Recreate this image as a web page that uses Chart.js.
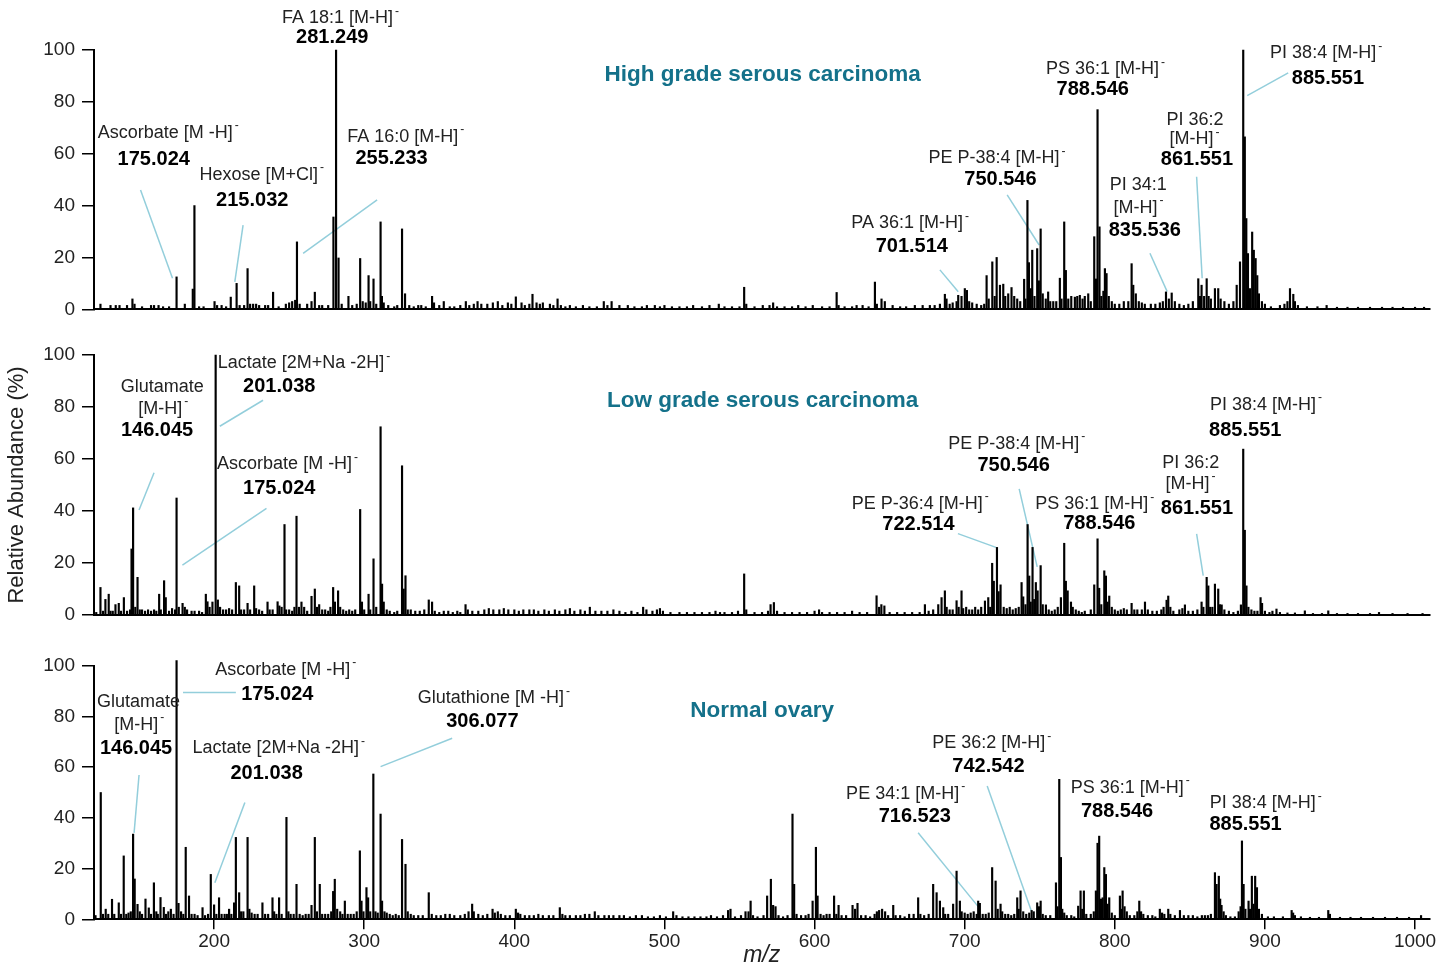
<!DOCTYPE html>
<html>
<head>
<meta charset="utf-8">
<script src="https://cdn.jsdelivr.net/npm/chart.js@4.4.1/dist/chart.umd.min.js"></script>
<style>
  html, body { margin: 0; padding: 0; background: #fff; }
  body { width: 1450px; height: 964px; position: relative; overflow: hidden; }
  canvas { position: absolute; left: 0; }
</style>
</head>
<body>
<canvas id="hgs" width="1450" height="330" style="top:0px"></canvas>
<canvas id="lgs" width="1450" height="310" style="top:330px"></canvas>
<canvas id="norm" width="1450" height="324" style="top:640px"></canvas>
<script>
// peaks: [m/z, relative abundance %]
const hgsPeaks = [
  [124.3,2],[131,1.5],[134.5,1.5],[137,1.5],[142,1.5],[145.6,4],[147,2],[152,1],[158,1.5],[160,1.5],[163,1.5],[166,1],[170,1],
  [175.0,12.5],[180.5,2],[185.8,7.8],[186.9,40],[190,1],[193,1],[200.3,3],[202,1.5],[205,1.5],[208,1],[211.1,4.7],[215.0,10],
  [217,1.5],[220,1.5],[222.3,15.7],[224,2],[226,2],[228,2],[230,1.5],[234,1.5],[236,1.5],[239.3,6.6],[243,1],[247.8,2],[250,2.5],
  [252,3],[254,3.5],[255.2,26],[257,2],[262,2],[264.9,3],[267.1,6.6],[270,1.5],[272,1.5],[276,1.5],[279.5,35.6],[281.25,100],
  [282.9,19.8],[285,2],[289.5,5],[292,1.5],[295,2],[297.3,19.6],[299,3],[301,2.5],[302.9,13],[304,3],[306.2,11.7],[308,2],
  [310.9,33.7],[311.8,5],[313,2.5],[316,1.5],[320,1],[322,1.5],[325.2,31],[327.2,6],[330,1.5],[333,1],[336,1.5],[338,1.5],
  [341,1],[345.2,5],[346.5,2.5],[350,1.5],[353,3],[357,1],[360,1],[364,1.5],[367.7,3],[370,1.5],[373,2],[375.5,3],[378,2],
  [382,2],[385.7,2.5],[389,3],[392,1.5],[395.7,2.5],[398,2],[401,4.8],[404.8,2.5],[407,1.5],[410,2],[412.1,5.8],[414.8,2.5],
  [417,2],[419,2.5],[423.7,2],[426,1.5],[428.8,4],[431,1.5],[434,1],[437,1.5],[441,1],[445.7,1.5],[450,1],[455,1],[459.6,3],
  [462,1.5],[464.8,3],[470,1.5],[475.6,1.5],[480,1],[485,1],[488.3,1.5],[493.6,1.5],[497,1],[500,1.5],[505,1],[510,1],[515,1],
  [519.1,1.5],[525,1],[530,1.5],[536.2,2],[540,1],[545,1],[550,1],[553.1,8.5],[554.5,2],[560,1],[565.5,1.5],[570,1.5],
  [572.4,2.5],[575,1],[580,1],[585,1],[589.1,1.5],[594,1],[598.8,1.5],[605,1],[610,1],[614.7,6.5],[616,1.5],[620,1],[625,1],
  [628,1.5],[632,1.5],[636,1],[640.2,10.5],[641.5,2],[644.6,4],[646.8,3],[652,1.5],[657,1],[661,1],[666.8,1.5],[672,1.5],
  [676.8,1.5],[680,1.5],[683.5,2],[686.8,5.8],[687.9,4],[690,2],[692,2.5],[694.6,3],[695.7,5.4],[697.9,5],[700.1,8],[701.5,7.3],
  [703,3],[705,2.5],[708,2],[711,1.5],[713,2],[714.6,13],[716,4],[718.4,18.3],[720,5],[721.3,20],[723.5,9.3],[725.7,9.7],
  [727,5],[729,6],[731.2,8.4],[733,5],[735,4],[737,3],[739.6,11.6],[740.5,4],[741.8,42],[742.8,18],[744,8],[745,22.8],
  [746.5,5],[748.3,23.4],[749.4,11],[750.6,31],[752,6],[754,4],[755.6,6.7],[757,3],[759,3],[761,3],[763.4,12],[764.5,4],
  [766.3,33.7],[767.4,15],[769,4],[771,5],[773.4,4.7],[775,5],[776.7,5.4],[778.5,4],[780,5],[782.3,6],[784,3],[786.3,28],
  [787.5,11.7],[788.5,77],[789.8,31.8],[791,5],[792.4,7],[793.4,15.7],[794.5,13.8],[796,5],[798,3],[800,2],[803,2],[806,3],
  [809,3],[811.2,17.6],[812.3,9.3],[814,6],[816,3],[818,2.5],[820,2],[824,2],[827,2],[830,2.5],[832,3],[834.1,6.7],[836,4],
  [837.9,6.3],[840,3],[843,2],[846,1.5],[849,2],[852,3],[855.6,11.8],[856.7,5],[857.8,9.3],[859.5,5],[861.2,11.8],[862.5,5],
  [864,4],[866.7,8],[868.9,8],[870.5,4],[873,3],[876,2],[879,3],[881.2,9.3],[883.4,18.3],[885.55,100],[886.6,66.5],[887.6,35],
  [888.7,21.5],[890,8],[891.5,29.8],[892.6,22.8],[893.8,19.6],[894.9,13],[896,6],[898,3],[900,2],[904,1],[910,1.5],[913,2],
  [915,3],[916.7,8],[918.9,5.8],[920,3],[922,1.5],[928,1],[935,1],[941.1,1.5],[948,0.8],[955,0.8],[962,0.8],[970,0.8],
  [978,0.8],[985,0.8],[992,0.8],[1000,0.8],[1006,0.8]
];

const lgsPeaks = [
  [121.5,1],[124.3,10.6],[126,1.5],[127.6,6],[129.8,8],[131,1.5],[132.5,1.5],[134.3,4],[136.5,4.5],[138,1.5],[139.9,6.7],
  [142,1.5],[144,2],[145.0,25.4],[146.05,41.2],[147.5,3],[149,14.5],[150.5,2],[152,2],[154,1.5],[156,2],[158,1.5],[160,2],
  [161.5,1.5],[163.4,8],[164.5,2],[166.7,13.2],[167.8,6.7],[170,1.5],[172,2.5],[174,2],[175.0,45],[176.5,3],[179,4.5],
  [180.5,3],[182,2],[185,1.5],[187,1.5],[190,1.5],[192,1],[194.5,8],[195.6,5.1],[197,3],[198.9,5],[201.04,100],[202.5,5.8],
  [204,3],[206,2],[208,2],[210,2.5],[212,2],[214.5,12.5],[216.7,11.2],[218,2],[220,2],[222.3,4.5],[224,2],[226.7,11.2],
  [228,2.5],[230,2],[232,1.5],[235.6,5],[237,2],[239,2],[242.3,5.1],[243.5,3.5],[245,3],[246.9,34.8],[248,2],[250,2],
  [252,1.5],[253.5,3],[254.9,38],[256.5,3],[258.2,5],[260,3],[262,1.5],[264.9,7.2],[267.1,10],[268.5,3],[270,4],[272,2],
  [274,2],[276,1.5],[277.5,3],[279.3,10.6],[280.5,5],[282.6,9.3],[284,3],[286,2],[288,1.5],[290,2],[292,1.5],[294,2],
  [297.3,40.6],[298.5,5],[300,2],[302.9,8],[304,2],[306.2,21.6],[308,3],[310.9,72.4],[311.9,11.9],[313,5],[315,2],[317,1.5],
  [320,1],[322,1.5],[325.2,57.4],[326.3,10],[327.5,15.1],[329,2],[331,2],[334,1.5],[337,1.5],[340,2],[343,5.8],[345.2,5],
  [347,1.5],[350,1],[353,1.5],[356,1.5],[359,1],[362,1.5],[364,1],[367.5,4],[369,2],[372,1.5],[376,1.5],[380,2],[383,2.5],
  [386,2],[390,2],[393,2.5],[396,2],[400,2],[403,1.5],[406,2],[410,2],[413,2],[416,1.5],[420,2],[423,1.5],[427,2],[430,1.5],
  [434,2],[437,2.5],[440,1.5],[444,2],[447,1.5],[450.3,3],[454,1.5],[458,1.5],[462,1.5],[466,2],[470,1.5],[474,1],[478,1.5],
  [482,1],[485.8,3],[488,2],[492,1.5],[495,2],[497,2.5],[499,1.5],[504,1],[510,1],[515,1],[520,1],[525,1],[530,1],[534,1.5],
  [537,1],[540,1],[545,1],[549,1.5],[553.1,15.8],[554.5,2],[560,1],[565,1],[569,1.5],[570.7,4],[572.9,4.8],[575,1.5],[580,1],
  [585,1],[590,1],[595,1],[600,1.5],[603,2],[605,1],[610,1],[615,1],[620,1],[625,1.5],[630,1],[635,1],[641.3,7.4],[643,3],
  [644.5,4],[646.5,3.5],[650,1],[655,1],[660,1],[665,1],[670,1],[673.5,4],[676,1.5],[679,2],[682.4,4],[684.6,6.7],[686.8,9.3],
  [688,3],[690,2],[692,2],[694.6,5.5],[696,3],[697.9,9.3],[699,2.5],[701,3],[703,2],[705,2],[707,3],[709,2],[711,3],
  [713.5,5.4],[715.7,6.7],[717,3],[718.3,19.9],[719.4,13],[721.5,26],[722.6,9],[723.9,11.6],[726,3],[728,2.5],[730,3],[732,2],
  [734,2.5],[736,3],[737.9,12.5],[739,7],[740.5,4],[741.9,34.8],[743,15],[744,5],[745.2,26],[746.3,6],[747.4,12.5],[748.6,9.3],
  [750.6,19],[752,4],[754.1,3.9],[756,2],[758,1.5],[760,2],[762,3],[764.1,6.7],[766.3,27.6],[767.4,13],[768.6,9.3],[770.8,5],
  [772,3],[774,2],[776,1.5],[778,1],[780,1.5],[784,2],[786.3,11.6],[788.5,29.3],[789.6,10.3],[791,4],[793,17],[794.1,15],
  [795.2,5],[796.3,7.3],[798,3],[800,2],[802,1.5],[804,2],[806,2.5],[808,2],[811.2,4.5],[813,2],[815,2],[818,2],[820.1,5],
  [822,2],[825,1.5],[828,1.5],[831,2],[832.5,3],[834.5,5.7],[835.6,7.3],[837,3],[839,1.5],[843,2],[845,2.5],[846.7,3.9],
  [849,1.5],[852,1.5],[855,2],[857.8,5],[859,3],[861.2,14.5],[862.3,11.2],[863.5,3],[865,3],[866.7,11.9],[868.9,10],[870,4],
  [871.2,3.9],[873,2],[876,1.5],[879,1],[882,1.5],[884,3.9],[885.55,63.8],[886.6,32.6],[887.7,11.2],[889,3],[891,2],[893,1.5],
  [895,1.5],[897.1,6.7],[898.1,4.5],[900,1.5],[903,1],[905,1.5],[907.7,2.3],[910,1],[915,0.8],[920,0.8],[926.6,1.6],[932,0.6],
  [938,0.6],[942.2,1.6],[948,0.6],[955,0.6],[962,0.6],[970,0.6],[976,1],[985,0.6],[995,0.6],[1005,0.6]
];

const normPeaks = [
  [121,1.5],[124.5,50],[126,2],[127.8,4],[129.5,2],[132,7.9],[133.5,2],[136.5,6.5],[138,2],[139.8,25],[141.5,2],[143,2.5],
  [144.5,3],[146.05,33.6],[147.1,15.9],[149,5.9],[150.5,3],[152,2],[154.3,8],[156.5,4.5],[158,2],[159.9,14.4],[161.5,3],
  [162.5,2],[164.3,8.6],[166.5,4.7],[168,2],[169.5,3],[171.2,4],[173,2],[175.0,102],[176.3,6.3],[178,3],[179.5,2],[181.1,28.4],
  [183.3,9.2],[185,2],[187,2],[189,1.5],[192.3,4.6],[194,1.5],[196,2],[197.8,17.7],[200,5.7],[201.5,2],[203.3,8.5],[205,2],
  [207,2],[208.5,2],[210,4],[211.5,2],[213.3,6.5],[214.5,32.3],[216.7,10.5],[218,3],[219.5,3],[222.3,32.3],[223.5,4],[225,2.5],
  [227,2],[229,2],[232.2,6.5],[234,2],[236,2],[238.9,8.5],[240,3],[241.5,2],[243.3,8.5],[245,2],[248.2,40.2],[249.5,3],[251,2],
  [253,2],[254.9,13.8],[257,2],[259,1.5],[261,2],[263,2],[264.9,5.5],[267.1,32.3],[268.5,3],[270.4,13.8],[272,2],[274,2],
  [276,2],[278,3],[279.3,11],[280.4,15.8],[282,4],[284,3],[285.5,2],[287.1,7.2],[289,2],[291,2],[293,2],[295,3],[297.1,27],
  [298.2,7.2],[299.5,3],[301.5,12.5],[302.6,8.5],[304,3],[306.08,57.3],[307.5,3],[309,2.5],[310.9,41.5],[311.9,7.2],[313.5,3],
  [315,2.5],[317,2],[319,1.5],[321,2],[323,1.5],[325.2,31.5],[327.5,21.7],[329,3],[331,2],[333,1.5],[336,1.5],[339,1.5],
  [343,10.5],[345,2],[348,1.5],[351,1.5],[354,2],[357,2],[360,1.5],[364,1.5],[367,2],[369.5,3],[371.9,6],[373,3],[376,2],
  [379,1.5],[382,2],[385.5,4],[387,2.5],[389,3],[391,2],[394,1.5],[397,1.5],[401,4],[402.5,2.5],[404,2],[407,1.5],[410,1.5],
  [413,1.5],[416,2],[419,1.5],[423,1.5],[426,1.5],[430.3,4.6],[432,2],[434,1.5],[437,1.5],[441,1.5],[444,1.5],[447,2],[450,2],
  [453.6,3],[456,1.5],[460,1.5],[463,1.5],[466,1.5],[470,1.5],[473,1.5],[477,1],[481,1.5],[485,1.5],[489,1],[493,1],[497,1.5],
  [501,1],[505.8,3],[508,1.5],[512,1],[516,1],[520,1],[524,1],[528,1],[531,1.5],[535,1],[539,1.5],[542.4,3.5],[544,4],[547,1],
  [551,1.5],[554,3],[556,3],[557.4,7.2],[559,1.5],[562,1],[566,1.5],[568.4,9.2],[570.9,15.8],[572.4,5.5],[574,5],[576,1.5],
  [579,1],[582,1.5],[585.3,41.5],[586.4,13.8],[588,2],[591,1.5],[594,1.5],[596,2],[598.7,7.2],[600.9,28.4],[602,9.2],[604,2],
  [606,1.5],[608,2],[610,2],[613,9.2],[614.5,2],[616,5.5],[618,1.5],[621,1.5],[625.3,5.5],[627,4],[628.6,6.3],[631,1.5],
  [634,1.5],[637,1],[640,2],[641.5,3],[643,3.5],[645,4],[647,3],[649,1.5],[652.4,5.5],[654,1.5],[657,1.5],[660,1],[663,2],
  [666,2],[669,8.5],[670.5,2],[673,1.5],[676,2],[679,13.8],[681.3,10.5],[683.5,7.2],[685.7,4.6],[687,2],[689,2],[692.3,6],
  [694.6,19],[696.8,7.2],[698,3],[700,2.5],[702,2],[704,2.5],[706,3],[708,2],[709,7.2],[710.1,6.3],[712,2],[714,2],[716,2.5],
  [718.3,20.4],[720.6,15.1],[722,4],[723.9,6],[725,3],[727,2],[729,2],[731,1.5],[733,2],[735,8.5],[736,4],[737.2,11.2],[739,3],
  [741,2],[743,2.5],[744.6,3.5],[746,3],[748.3,6.5],[749.5,5],[750.6,7.2],[752,2],[754,1.5],[757,1.5],[760.8,14.4],[761.9,5],
  [763,55.2],[764.1,24.4],[765,4],[766.3,2.5],[768,1.5],[771,1.5],[773,1],[775.6,5.2],[777.2,11.2],[778.3,4],[779.4,11.2],
  [781,2],[784,2],[786,3],[787.4,11.2],[788.5,30],[789.6,32.8],[790.8,8],[791.9,8.5],[793,20.4],[794.1,17.7],[795.2,6],
  [796.3,8.5],[798,2.5],[800,1.5],[803.4,9.2],[804.3,4],[805.2,11.2],[806.5,5],[808,3],[810,1.5],[813,1.5],[815,3],[816.3,7.2],
  [817.5,3],[819,2],[822,1.5],[825,1.5],[827,1],[830,4],[831.5,2.5],[833,2],[835.6,4],[837,2],[840,1.5],[843.4,3.5],[846,1.5],
  [849,1.5],[852,1.5],[855,1],[858,1.5],[860,1.5],[862,1.5],[864,2],[866.7,18.4],[867.8,13.8],[869.3,17],[870.2,8],[871.1,5.5],
  [872.5,3],[874,1.5],[877,1],[880,1],[882.5,3],[883.8,5],[884.7,30.9],[885.8,13.8],[887,4],[889.1,7.2],[890,4],[891.3,17],
  [892.4,6],[893.5,17],[894.7,12.5],[896,4],[898,2],[902,1],[906,1],[912,1],[917.8,3.5],[918.8,2.5],[920,1.5],[924,1],
  [930,0.8],[936,0.8],[942.2,3.5],[943.3,2],[950,0.8],[957,0.8],[964,0.8],[972,0.8],[980,0.8],[988,0.8],[996,0.8],[1004,1.5]
];

const xTicks = [200, 300, 400, 500, 600, 700, 800, 900, 1000];
const yTicks = [0, 20, 40, 60, 80, 100];
const mzRange = [120, 1009.5];

// peak annotations, placed in data units: [text, m/z, %]
const hgsNotes = [
  { lines: [['Ascorbate [M -H]', 169.8, 68.0], ['175.024', 159.8, 57.6]], lead: [151.0, 46.0, 172.3, 12.0] },
  { lines: [['Hexose [M+Cl]', 232.1, 51.8], ['215.032', 225.4, 41.8]], lead: [219.3, 32.5, 213.8, 10.6] },
  { lines: [['FA 18:1 [M-H]', 284.6, 112.2], ['281.249', 278.7, 104.8]] },
  { lines: [['FA 16:0 [M-H]', 328.0, 66.6], ['255.233', 318.2, 58.0]], lead: [308.6, 42.2, 259.3, 21.6] },
  { lines: [['PA 36:1 [M-H]', 664.0, 33.2], ['701.514', 664.8, 24.1]], lead: [683.5, 15.2, 695.7, 6.8] },
  { lines: [['PE P-38:4 [M-H]', 721.9, 58.2], ['750.546', 723.8, 49.9]], lead: [728.3, 44.1, 749.6, 24.8] },
  { lines: [['PS 36:1 [M-H]', 794.1, 92.6], ['788.546', 785.3, 84.6]] },
  { lines: [['PI 36:2', 853.4, 73.0], ['[M-H]', 853.4, 65.6], ['861.551', 854.7, 57.6]], lead: [854.5, 51.1, 858.2, 12.0] },
  { lines: [['PI 34:1', 815.6, 47.9], ['[M-H]', 816.1, 39.0], ['835.536', 820.0, 30.3]], lead: [823.4, 21.6, 834.9, 6.8] },
  { lines: [['PI 38:4 [M-H]', 941.1, 98.7], ['885.551', 942.0, 89.1]], lead: [915.5, 91.2, 888.2, 82.4] }
];

const lgsNotes = [
  { lines: [['Glutamate', 165.5, 87.8], ['[M-H]', 166.4, 79.2], ['146.045', 162.0, 71.0]], lead: [160.0, 54.7, 150.0, 40.4] },
  { lines: [['Lactate [2M+Na -2H]', 260.2, 96.8], ['201.038', 243.4, 88.0]], lead: [232.6, 82.6, 203.8, 72.6] },
  { lines: [['Ascorbate [M -H]', 249.3, 57.9], ['175.024', 243.4, 48.5]], lead: [234.9, 41.0, 178.9, 19.2] },
  { lines: [['PE P-36:4 [M-H]', 670.7, 42.7], ['722.514', 669.2, 35.0]], lead: [695.5, 31.3, 720.8, 26.0] },
  { lines: [['PE P-38:4 [M-H]', 735.0, 65.9], ['750.546', 732.6, 57.5]], lead: [736.3, 48.5, 748.3, 18.5] },
  { lines: [['PS 36:1 [M-H]', 787.0, 42.5], ['788.546', 789.7, 35.3]] },
  { lines: [['PI 36:2', 850.6, 58.4], ['[M-H]', 850.8, 50.5], ['861.551', 854.7, 40.8]], lead: [854.5, 31.2, 858.9, 15.1] },
  { lines: [['PI 38:4 [M-H]', 901.1, 80.7], ['885.551', 886.9, 71.0]] }
];

const normNotes = [
  { lines: [['Glutamate', 149.7, 85.8], ['[M-H]', 150.5, 76.6], ['146.045', 148.0, 67.4]], lead: [150.0, 56.9, 146.7, 34.1] },
  { lines: [['Ascorbate [M -H]', 248.0, 98.3], ['175.024', 242.1, 88.8]], lead: [179.3, 89.4, 214.5, 89.4] },
  { lines: [['Lactate [2M+Na -2H]', 243.4, 67.4], ['201.038', 235.0, 57.6]], lead: [220.5, 46.1, 200.5, 14.4] },
  { lines: [['Glutathione [M -H]', 386.7, 87.1], ['306.077', 378.7, 78.2]], lead: [358.6, 71.4, 310.9, 60.2] },
  { lines: [['PE 34:1 [M-H]', 661.0, 49.4], ['716.523', 666.8, 40.5]], lead: [669.0, 34.1, 709.0, 5.0] },
  { lines: [['PE 36:2 [M-H]', 718.3, 69.4], ['742.542', 715.8, 60.4]], lead: [715.0, 52.6, 744.6, 3.0] },
  { lines: [['PS 36:1 [M-H]', 810.6, 51.9], ['788.546', 801.5, 42.4]] },
  { lines: [['PI 38:4 [M-H]', 900.9, 45.7], ['885.551', 887.1, 37.2]] }
];

const FONT = "'Liberation Sans', Arial, Helvetica, sans-serif";
const TEAL = '#14718a';
const LEAD = '#93cedb';

// draws the tissue title, leader lines and peak labels
const peakLabels = {
  id: 'peakLabels',
  beforeDatasetsDraw(chart, args, opts) {
    const { ctx, scales: { x, y } } = chart;
    ctx.save();
    ctx.strokeStyle = LEAD;
    ctx.lineWidth = 1.5;
    opts.notes.forEach(n => {
      if (!n.lead) return;
      ctx.beginPath();
      ctx.moveTo(x.getPixelForValue(n.lead[0]), y.getPixelForValue(n.lead[1]));
      ctx.lineTo(x.getPixelForValue(n.lead[2]), y.getPixelForValue(n.lead[3]));
      ctx.stroke();
    });
    ctx.restore();
  },
  afterDatasetsDraw(chart, args, opts) {
    const { ctx, scales: { x, y } } = chart;
    ctx.save();
    ctx.textBaseline = 'middle';
    ctx.textAlign = 'center';
    ctx.fillStyle = TEAL;
    ctx.font = 'bold 22.5px ' + FONT;
    ctx.fillText(opts.title[0], x.getPixelForValue(opts.title[1]), y.getPixelForValue(opts.title[2]));

    ctx.textAlign = 'left';
    opts.notes.forEach(n => {
      n.lines.forEach(([text, mz, val]) => {
        const bold = /^\d/.test(text);
        const sup = text.endsWith(']');
        ctx.font = bold ? 'bold 20px ' + FONT : '18px ' + FONT;
        const w = ctx.measureText(text).width;
        const sw = sup ? 7 : 0;
        const x0 = x.getPixelForValue(mz) - (w + sw) / 2;
        const cy = y.getPixelForValue(val);
        ctx.fillStyle = bold ? '#000' : '#222';
        ctx.fillText(text, x0, cy);
        if (sup) {
          ctx.font = '12px ' + FONT;
          ctx.fillText('-', x0 + w + 2, cy - 7);
        }
      });
    });
    ctx.restore();
  }
};

function makePanel(id, peaks, notes, title, pad, bottom) {
  return new Chart(document.getElementById(id), {
    type: 'bar',
    data: {
      datasets: [{
        data: peaks.map(p => ({ x: p[0], y: p[1] })),
        backgroundColor: '#000',
        borderWidth: 0,
        barThickness: 1.5,
        clip: false
      }]
    },
    options: {
      responsive: false,
      animation: false,
      devicePixelRatio: 1,
      events: [],
      layout: { padding: { left: 0, right: 20.7, top: pad[0], bottom: pad[1] } },
      scales: {
        x: {
          type: 'linear',
          min: mzRange[0],
          max: mzRange[1],
          offset: false,
          afterBuildTicks: s => { s.ticks = xTicks.map(v => ({ value: v })); },
          afterFit: s => { s.height = bottom ? 44.7 : 0; },
          ticks: {
            display: bottom,
            font: { family: FONT, size: 19 },
            color: '#222',
            padding: 1,
            maxRotation: 0,
            callback: v => String(v)
          },
          grid: {
            display: bottom,
            offset: false,
            drawOnChartArea: false,
            tickLength: 10,
            color: '#000',
            lineWidth: 1.5
          },
          border: { display: true, color: '#000', width: 2 },
          title: {
            display: bottom,
            text: 'm/z',
            font: { family: FONT, size: 23, style: 'italic', lineHeight: 0.7 },
            color: '#222',
            padding: { top: 0, bottom: 0 }
          }
        },
        y: {
          min: 0,
          max: 100,
          afterBuildTicks: s => { s.ticks = yTicks.map(v => ({ value: v })); },
          afterFit: s => { s.width = 94; },
          ticks: {
            font: { family: FONT, size: 19 },
            color: '#222',
            padding: 7
          },
          grid: {
            drawOnChartArea: false,
            tickLength: 12,
            color: '#000',
            lineWidth: 1.5
          },
          border: { display: true, color: '#000', width: 2 },
          title: {
            display: id === 'lgs',
            text: 'Relative Abundance (%)',
            font: { family: FONT, size: 22 },
            color: '#222',
            padding: { top: 4, bottom: 0 }
          }
        }
      },
      plugins: {
        legend: { display: false },
        tooltip: { enabled: false },
        peakLabels: { notes: notes, title: title }
      }
    },
    plugins: [peakLabels]
  });
}

makePanel('hgs', hgsPeaks, hgsNotes, ['High grade serous carcinoma', 565.4, 90.4], [50, 20.7], false);
makePanel('lgs', lgsPeaks, lgsNotes, ['Low grade serous carcinoma', 565.4, 82.4], [25, 25], false);
makePanel('norm', normPeaks, normNotes, ['Normal ovary', 565.1, 82.3], [25.7, 0], true);
</script>
</body>
</html>
